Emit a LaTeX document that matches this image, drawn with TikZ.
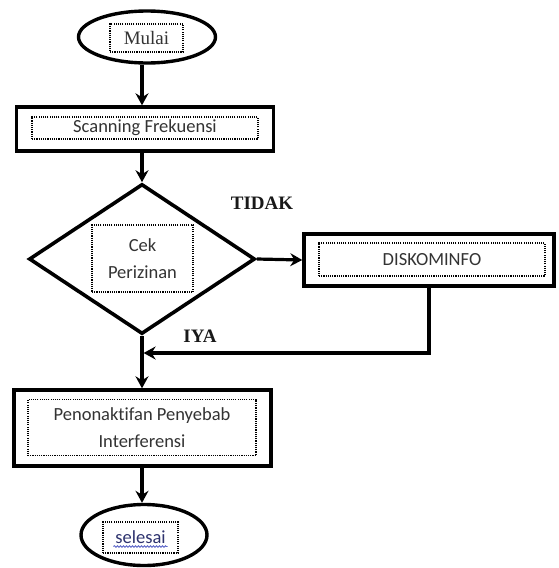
\documentclass[tikz,border=0pt]{standalone}
\usepackage{fontspec}
\setmainfont{Liberation Serif}
\newfontfamily\calfont[Ligatures={NoCommon,NoContextual}]{Carlito}
\usetikzlibrary{shapes.geometric,arrows.meta,decorations.pathmorphing}
\tikzset{
  outer/.style={draw=black,line width=3.4pt},
  inbox/.style={draw=black,dash pattern=on 1.1pt off 1.1pt,line width=1.2pt,inner sep=0pt,align=center,text=black!80},
  arr/.style={line width=3.2pt,-{Stealth[length=12pt,width=13pt,inset=4pt]}},
  lbl/.style={font=\fontsize{19}{22}\selectfont\bfseries,text=black!90}
}
\begin{document}
\begin{tikzpicture}[x=1pt,y=-1pt]
\useasboundingbox[fill=white] (0,0) rectangle (558,568);
% Mulai
\node[outer,ellipse,minimum width=137pt,minimum height=52pt,inner sep=0pt] (mulai) at (147,37) {};
\node[inbox,minimum width=73pt,minimum height=28pt,font=\fontsize{19}{20}\selectfont] (mulait) at (146.5,38) {Mulai};
% Scanning
\node[outer,rectangle,minimum width=257pt,minimum height=44pt,inner sep=0pt] (scan) at (145,129) {};
\node[inbox,minimum width=226pt,minimum height=22pt,font=\calfont\fontsize{18.5}{20}\selectfont] (scant) at (145,128) {Scanning Frekuensi};
% Diamond
\node[outer,diamond,line width=3.6pt,minimum width=226pt,minimum height=150pt,inner sep=0pt] (cek) at (142,259) {};
\node[inbox,minimum width=101pt,minimum height=67pt,font=\calfont\fontsize{18.5}{27}\selectfont] (cekt) at (142.5,258.5) {Cek\\Perizinan};
% DISKOMINFO
\node[outer,rectangle,minimum width=250pt,minimum height=52pt,inner sep=0pt] (disko) at (429,260) {};
\node[inbox,minimum width=226pt,minimum height=33pt,font=\calfont\fontsize{18.5}{20}\selectfont] (diskot) at (432,259.5) {DISKOMINFO};
% Penonaktifan
\node[outer,rectangle,minimum width=257pt,minimum height=76pt,inner sep=0pt] (penon) at (142.5,428) {};
\node[inbox,minimum width=228pt,minimum height=56pt,font=\calfont\fontsize{18.5}{27}\selectfont] (penont) at (142,427.5) {Penonaktifan Penyebab\\Interferensi};
% selesai
\node[outer,ellipse,minimum width=126pt,minimum height=61pt,inner sep=0pt] (selesai) at (144,535) {};
\node[inbox,minimum width=75pt,minimum height=31pt,font=\calfont\fontsize{18.5}{20}\selectfont,text={rgb,255:red,45;green,50;blue,110}] (selesait) at (140.5,537.5) {selesai};
\draw[line width=0.9pt,color={rgb,255:red,90;green,100;blue,200},decorate,decoration={snake,amplitude=0.8pt,segment length=3pt}] ([xshift=-27pt,yshift=-9pt]selesait.center) -- ([xshift=27pt,yshift=-9pt]selesait.center);
% labels
\node[lbl] (tidak) at (262,203) {TIDAK};
\node[lbl] (iya) at (200,336) {IYA};
% connectors
\coordinate (join) at (142,353);
\draw[arr] (mulai.south -| 142,0) -- (scan.north -| 142,0);
\draw[arr] (scan.south -| 142,0) -- (cek.north);
\draw[arr] (cek.east) -- (disko.west);
\draw[arr,shorten >=1.6pt] (disko.south -| 429,0) |- (join);
\draw[arr] (cek.south) -- (penon.north -| cek.south);
\draw[arr] (penon.south -| 142,0) -- (selesai.north -| 142,0);
\end{tikzpicture}
\end{document}
